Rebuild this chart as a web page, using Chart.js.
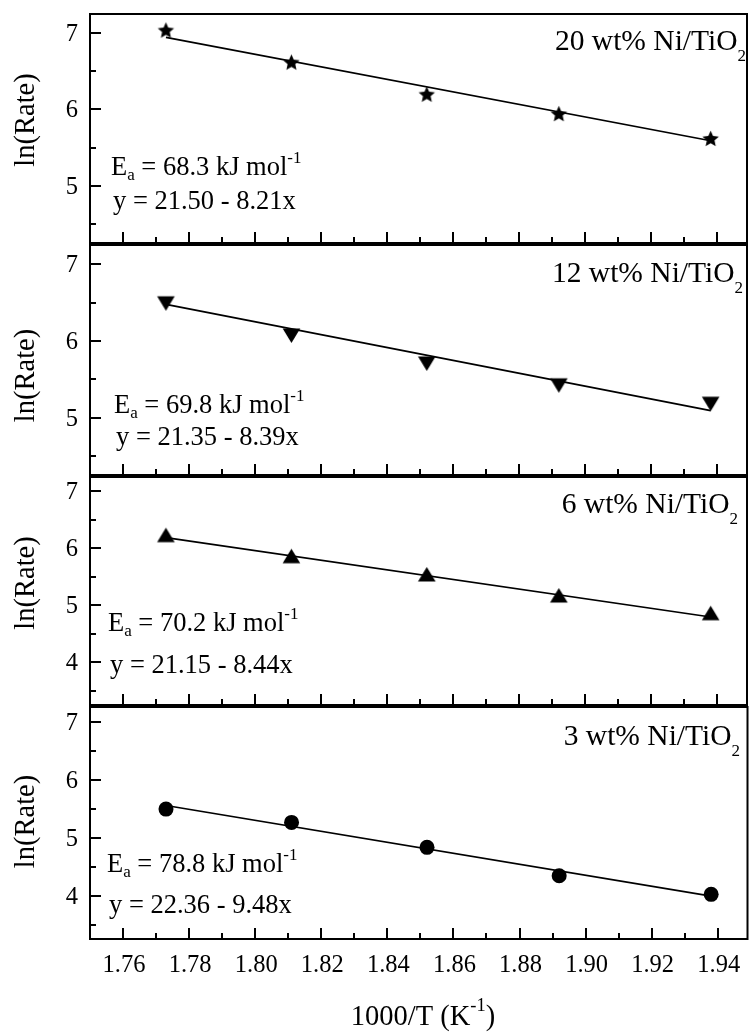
<!DOCTYPE html>
<html>
<head>
<meta charset="utf-8">
<script src="https://cdn.jsdelivr.net/npm/chart.js@4.4.1/dist/chart.umd.min.js"></script>
<style>
  html, body { margin: 0; padding: 0; background: #fff; }
  #wrap { position: relative; width: 755px; height: 1032px; overflow: hidden; background: #fff; }
  #wrap canvas { position: absolute; left: 0; }
</style>
</head>
<body>
<div id="wrap"></div>
<script>
// ---- data ----
const invTemperature = [1.773, 1.811, 1.852, 1.892, 1.938];   // 1000/T (K^-1)
const lnRate20 = [7.04, 6.62, 6.20, 5.945, 5.62];
const lnRate12 = [6.49, 6.07, 5.705, 5.42, 5.18];
const lnRate6  = [6.23, 5.86, 5.54, 5.17, 4.86];
const lnRate3  = [5.49, 5.26, 4.83, 4.34, 4.02];

const loadings = ['20', '12', '6', '3'];                // wt% Ni on TiO2
const activationEnergy = [68.3, 69.8, 70.2, 78.8];      // kJ mol^-1
const fitIntercept = [21.50, 21.35, 21.15, 22.36];
const fitSlope = [8.21, 8.39, 8.44, 9.48];              // y = a - b x

const xTickValues = [1.76, 1.78, 1.80, 1.82, 1.84, 1.86, 1.88, 1.90, 1.92, 1.94];
const yTickValuesUpper = [5, 6, 7];
const yTickValuesLower = [4, 5, 6, 7];

// ---- layout ----
const FONT = '"Liberation Serif", "Times New Roman", serif';
const PAGE_W = 755, PAGE_H = 1032;
const AREA_LEFT = 90, AREA_RIGHT = 752;
const PAD_TOP = 20;
const panels = [
  { series: lnRate20, marker: 'star',    top: 14,  bottom: 245, yMin: 4.25, yMax: 7.25, yTicks: yTickValuesUpper,
    titleY: 120,   labelRight: 746, labelBase: 36,   textLeft: 111, eaBase: -68, fitBase: -34 },
  { series: lnRate12, marker: 'triDown', top: 245, bottom: 477, yMin: 4.25, yMax: 7.25, yTicks: yTickValuesUpper,
    titleY: 375.5, labelRight: 743, labelBase: 36.5, textLeft: 114, eaBase: -62, fitBase: -30 },
  { series: lnRate6,  marker: 'triUp',   top: 477, bottom: 707, yMin: 3.25, yMax: 7.25, yTicks: yTickValuesLower,
    titleY: 583,   labelRight: 738, labelBase: 36,   textLeft: 108, eaBase: -74, fitBase: -32 },
  { series: lnRate3,  marker: 'circle',  top: 707, bottom: 939, yMin: 3.25, yMax: 7.25, yTicks: yTickValuesLower,
    titleY: 821.5, labelRight: 740, labelBase: 38,   textLeft: 107, eaBase: -67, fitBase: -26 }
];

// ---- marker glyphs ----
function makeMarker(kind) {
  const c = document.createElement('canvas');
  c.width = 23; c.height = 23;
  const g = c.getContext('2d');
  g.fillStyle = '#000';
  g.translate(11.5, 11.5);
  g.beginPath();
  if (kind === 'star') {
    const R = 8.6, r = 4.0;
    for (let i = 0; i < 10; i++) {
      const a = -Math.PI / 2 + i * Math.PI / 5;
      const rad = i % 2 === 0 ? R : r;
      const px = Math.cos(a) * rad, py = Math.sin(a) * rad + 0.8;
      i === 0 ? g.moveTo(px, py) : g.lineTo(px, py);
    }
  } else if (kind === 'triDown') {
    g.moveTo(-8.8, -7); g.lineTo(8.8, -7); g.lineTo(0, 7.4);
  } else if (kind === 'triUp') {
    g.moveTo(-8.8, 7); g.lineTo(8.8, 7); g.lineTo(0, -7.4);
  }
  g.closePath();
  g.fill();
  return c;
}

// ---- text helpers ----
function richWidth(ctx, segs) {
  let w = 0;
  for (const s of segs) { ctx.font = s[1] + 'px ' + FONT; w += ctx.measureText(s[0]).width; }
  return w;
}
function drawRich(ctx, segs, x, y, align) {
  const w = richWidth(ctx, segs);
  let cx = align === 'right' ? x - w : align === 'center' ? x - w / 2 : x;
  ctx.textBaseline = 'alphabetic';
  ctx.textAlign = 'left';
  for (const s of segs) {
    ctx.font = s[1] + 'px ' + FONT;
    ctx.fillText(s[0], cx, y + (s[2] || 0));
    cx += ctx.measureText(s[0]).width;
  }
}

// frame, inward ticks, tick labels and annotations for one panel
const panelDecor = {
  id: 'panelDecor',
  afterDraw(chart, args, opts) {
    const { ctx, chartArea: a, scales } = chart;
    const p = opts.panel, idx = opts.index, offY = opts.offsetY;
    const xs = scales.x, ys = scales.y;
    ctx.save();
    ctx.strokeStyle = '#000';
    ctx.fillStyle = '#000';

    // inward ticks along the bottom and left edges
    ctx.lineWidth = 2;
    ctx.beginPath();
    const xMajor = xs.ticks.map(t => t.value);
    const xStep = xMajor[1] - xMajor[0];
    xMajor.forEach(v => {
      const px = Math.round(xs.getPixelForValue(v));
      ctx.moveTo(px, a.bottom); ctx.lineTo(px, a.bottom - 11);
    });
    [xMajor[0] - xStep / 2, ...xMajor.map(v => v + xStep / 2)].forEach(v => {
      if (v <= xs.min || v >= xs.max) return;
      const px = Math.round(xs.getPixelForValue(v));
      ctx.moveTo(px, a.bottom); ctx.lineTo(px, a.bottom - 6);
    });
    const yMajor = ys.ticks.map(t => t.value);
    const yStep = yMajor[1] - yMajor[0];
    yMajor.forEach(v => {
      const py = Math.round(ys.getPixelForValue(v));
      ctx.moveTo(a.left, py); ctx.lineTo(a.left + 11, py);
    });
    [yMajor[0] - yStep / 2, ...yMajor.map(v => v + yStep / 2)].forEach(v => {
      if (v <= ys.min || v >= ys.max) return;
      const py = Math.round(ys.getPixelForValue(v));
      ctx.moveTo(a.left, py); ctx.lineTo(a.left + 6, py);
    });
    ctx.stroke();

    // frame
    ctx.strokeRect(a.left, a.top, a.right - a.left, a.bottom - a.top);

    // y tick labels
    ctx.font = '24.5px ' + FONT;
    ctx.textAlign = 'right';
    ctx.textBaseline = 'alphabetic';
    yMajor.forEach(v => {
      ctx.fillText(String(v), a.left - 12, ys.getPixelForValue(v) + 8);
    });
    // x tick labels under the last panel
    if (opts.isLast) {
      ctx.textAlign = 'center';
      xMajor.forEach(v => {
        ctx.fillText(v.toFixed(2), xs.getPixelForValue(v) + 1, a.bottom + 33);
      });
    }

    // sample label, top right
    drawRich(ctx, [[loadings[idx] + ' wt% Ni/TiO', 29.5], ['2', 17, 11]],
      p.labelRight, a.top + p.labelBase, 'right');

    // activation energy and fitted equation, lower left
    drawRich(ctx, [['E', 26.5], ['a', 17, 5], [' = ' + activationEnergy[idx].toFixed(1) + ' kJ mol', 26.5], ['-1', 17, -12]],
      p.textLeft, a.bottom + p.eaBase, 'left');
    drawRich(ctx, [['y = ' + fitIntercept[idx].toFixed(2) + ' - ' + fitSlope[idx].toFixed(2) + 'x', 26.5]],
      p.textLeft + 2, a.bottom + p.fitBase, 'left');

    // y axis title
    ctx.save();
    ctx.translate(27, p.titleY - offY);
    ctx.rotate(-Math.PI / 2);
    ctx.font = '28.5px ' + FONT;
    ctx.textAlign = 'center';
    ctx.textBaseline = 'middle';
    ctx.fillText('ln(Rate)', 0, 0);
    ctx.restore();

    // x axis title under the last panel
    if (opts.isLast) {
      drawRich(ctx, [['1000/T (K', 28.5], ['-1', 18.5, -14], [')', 28.5]],
        423, 1025 - offY, 'center');
    }
    ctx.restore();
  }
};

const wrap = document.getElementById('wrap');
panels.forEach((p, idx) => {
  const isLast = idx === panels.length - 1;
  const canvasTop = p.top - PAD_TOP;
  const xAxisH = isLast ? PAGE_H - p.bottom : 6;
  const h = (p.bottom - p.top) + PAD_TOP + xAxisH;
  const cv = document.createElement('canvas');
  cv.width = PAGE_W; cv.height = h;
  cv.style.top = canvasTop + 'px';
  cv.style.width = PAGE_W + 'px'; cv.style.height = h + 'px';
  wrap.appendChild(cv);

  const a = fitIntercept[idx], b = fitSlope[idx];
  const xFirst = invTemperature[0], xLast = invTemperature[invTemperature.length - 1];
  const fitLine = [{ x: xFirst, y: a - b * xFirst }, { x: xLast, y: a - b * xLast }];
  const points = invTemperature.map((x, i) => ({ x, y: p.series[i] }));

  const markerStyle = p.marker === 'circle' ? 'circle' : makeMarker(p.marker);

  new Chart(cv, {
    type: 'scatter',
    data: {
      datasets: [
        { type: 'line', data: fitLine, borderColor: '#000', borderWidth: 1.7,
          pointRadius: 0, fill: false, tension: 0, order: 2 },
        { type: 'scatter', data: points, pointStyle: markerStyle,
          pointRadius: p.marker === 'circle' ? 7.5 : 8, pointBorderWidth: 0,
          backgroundColor: '#000', borderColor: '#000', order: 1 }
      ]
    },
    options: {
      responsive: false,
      animation: false,
      devicePixelRatio: 1,
      layout: { padding: { left: 0, right: PAGE_W - AREA_RIGHT, top: PAD_TOP, bottom: 0 } },
      plugins: {
        legend: { display: false },
        tooltip: { enabled: false },
        panelDecor: { panel: p, index: idx, offsetY: canvasTop, isLast }
      },
      scales: {
        x: {
          type: 'linear', min: 1.75, max: 1.949,
          grid: { display: false, drawTicks: false },
          border: { display: false },
          ticks: { display: false },
          afterBuildTicks: s => { s.ticks = xTickValues.map(v => ({ value: v })); },
          afterFit: s => { s.height = xAxisH; }
        },
        y: {
          type: 'linear', min: p.yMin, max: p.yMax,
          grid: { display: false, drawTicks: false },
          border: { display: false },
          ticks: { display: false },
          afterBuildTicks: s => { s.ticks = p.yTicks.map(v => ({ value: v })); },
          afterFit: s => { s.width = AREA_LEFT; }
        }
      }
    },
    plugins: [panelDecor]
  });
});
</script>
</body>
</html>
